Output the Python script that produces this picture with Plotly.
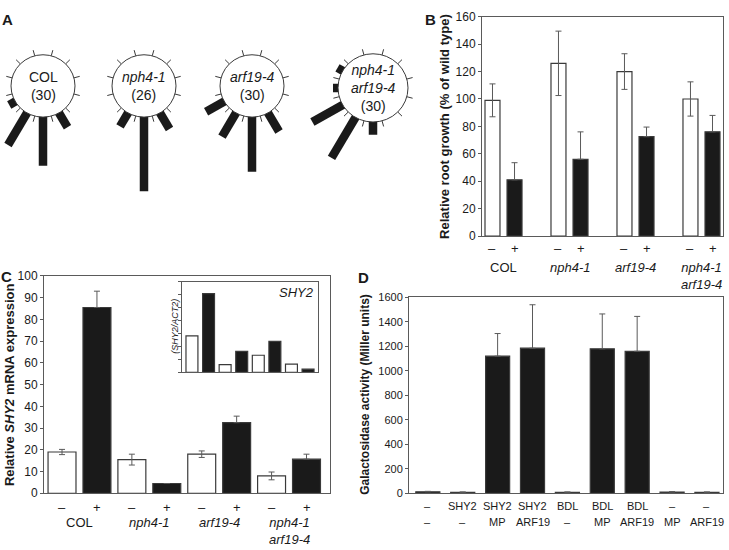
import numpy as np
import plotly.graph_objects as go

W, H = 729, 550
FONT = "Liberation Sans, Arial, Helvetica, sans-serif"
INK = "#1a1a1a"
EDGE = "#3a3a3a"
AX = "#5a5a5a"

# ---------------- Panel A : root angle histograms ----------------
A_genotypes = ["COL", "<i>nph4-1</i>", "<i>arf19-4</i>", "<i>nph4-1</i><br><i>arf19-4</i>"]
A_counts = [30, 26, 30, 30]
A_bin_angles = [-30, 0, 30, 60, 90, 120]   # degrees from vertical, positive = leftwards
A_COL = [17, 50, 38, 7, 0, 0]
A_NPH4 = [19, 76, 16, 0, 0, 0]
A_ARF19 = [22, 56, 28, 21, 0, 0]
A_DOUBLE = [0, 13, 48, 35, 5, 6]
A_bin_edges = [-165, -135, -105, -75, -45, -15, 15, 45, 75, 105, 135, 165]

# ---------------- Panel B : root growth ----------------
B_groups = ["COL", "<i>nph4-1</i>", "<i>arf19-4</i>", "<i>nph4-1</i><br><i>arf19-4</i>"]
B_minus = [99, 126, 120, 100]
B_minus_err = [12, 23.5, 13, 12.5]
B_plus = [41, 56, 72.5, 76]
B_plus_err = [12.5, 20, 7, 12]

# ---------------- Panel C : SHY2 expression ----------------
C_groups = ["COL", "<i>nph4-1</i>", "<i>arf19-4</i>", "<i>nph4-1</i><br><i>arf19-4</i>"]
C_minus = [19, 15.5, 18, 8]
C_minus_err = [1.2, 2.5, 1.5, 1.8]
C_plus = [85.5, 4.5, 32.5, 15.7]
C_plus_err = [7.5, 0, 3, 2.3]
C_inset = [2.83, 6.09, 0.6, 1.63, 1.33, 2.4, 0.65, 0.25]

# ---------------- Panel D : galactosidase activity ----------------
D_row1 = ["–", "SHY2", "SHY2", "SHY2", "BDL", "BDL", "BDL", "–", "–"]
D_row2 = ["–", "–", "MP", "ARF19", "–", "MP", "ARF19", "MP", "ARF19"]
D_vals = [12, 8, 1120, 1185, 8, 1180, 1160, 10, 8]
D_err = [4, 3, 185, 355, 3, 285, 285, 4, 3]


def fx(px):
    return px / W


def fy(py):
    return 1 - py / H


fig = go.Figure()
ann = []
shapes = []


def note(x, y, text, size, xref="paper", yref="paper", yanchor="middle", angle=0):
    ann.append(dict(xref=xref, yref=yref, x=x, y=y, text=text, showarrow=False,
                    xanchor="center", yanchor=yanchor, textangle=angle,
                    font=dict(size=size, color=INK, family=FONT)))


# ---------- Panel A (pixel-unit hidden cartesian axes) ----------
A_cx = [43, 144, 252, 373]
A_cy = [81, 81, 81, 83]
A_r = [32, 32, 32, 35]
A_all = [A_COL, A_NPH4, A_ARF19, A_DOUBLE]
for k in range(4):
    cx, cy, r = A_cx[k], A_cy[k], A_r[k]
    xs, ys = [], []
    for ang, L in zip(A_bin_angles, A_all[k]):
        if L <= 0:
            continue
        a = np.deg2rad(ang)
        dx, dy = -np.sin(a), np.cos(a)
        xs += [cx + (r - 2) * dx, cx + (r + L) * dx, None]
        ys += [cy + (r - 2) * dy, cy + (r + L) * dy, None]
    fig.add_trace(go.Scatter(x=xs, y=ys, mode="lines", xaxis="x5", yaxis="y5",
                             line=dict(color=INK, width=8.5), hoverinfo="skip"))
    tx, ty = [], []
    for ang in A_bin_edges:
        a = np.deg2rad(ang)
        dx, dy = -np.sin(a), np.cos(a)
        tx += [cx + r * dx, cx + (r + 6) * dx, None]
        ty += [cy + r * dy, cy + (r + 6) * dy, None]
    fig.add_trace(go.Scatter(x=tx, y=ty, mode="lines", xaxis="x5", yaxis="y5",
                             line=dict(color=EDGE, width=1), hoverinfo="skip"))
    shapes.append(dict(type="circle", xref="x5", yref="y5", layer="above",
                       x0=cx - r, x1=cx + r, y0=cy - r, y1=cy + r,
                       fillcolor="white", line=dict(color=EDGE, width=1)))
    note(cx, cy, f"{A_genotypes[k]}<br>({A_counts[k]})", 14, xref="x5", yref="y5")

# ---------- Panel B ----------
bpos = np.arange(len(B_groups))
off = 0.167
fig.add_trace(go.Bar(x=bpos - off, y=B_minus, width=0.227, xaxis="x", yaxis="y",
                     marker=dict(color="white", line=dict(color=EDGE, width=1.2)),
                     error_y=dict(type="data", array=B_minus_err, color=AX, thickness=1, width=3)))
fig.add_trace(go.Bar(x=bpos + off, y=B_plus, width=0.227, xaxis="x", yaxis="y",
                     marker=dict(color=INK, line=dict(color=EDGE, width=1.2)),
                     error_y=dict(type="data", array=B_plus_err, arrayminus=[0] * 4,
                                  color=AX, thickness=1, width=3)))
for i, g in enumerate(B_groups):
    note(i - off, fy(248), "–", 13, xref="x")
    note(i + off, fy(248), "+", 13, xref="x")
    note(i, fy(258), g, 13, xref="x", yanchor="top")

# ---------- Panel C ----------
cpos = np.arange(len(C_groups))
fig.add_trace(go.Bar(x=2 * cpos, y=C_minus, width=0.8, xaxis="x2", yaxis="y2",
                     marker=dict(color="white", line=dict(color=EDGE, width=1.2)),
                     error_y=dict(type="data", array=C_minus_err, color=AX, thickness=1, width=3)))
fig.add_trace(go.Bar(x=2 * cpos + 1, y=C_plus, width=0.8, xaxis="x2", yaxis="y2",
                     marker=dict(color=INK, line=dict(color=EDGE, width=1.2)),
                     error_y=dict(type="data", array=C_plus_err, arrayminus=[0] * 4,
                                  color=AX, thickness=1, width=3)))
for i, g in enumerate(C_groups):
    note(2 * i, fy(514), "–", 13, xref="x2")
    note(2 * i + 1, fy(514), "+", 13, xref="x2")
    note(2 * i + 0.5, fy(519), g, 13, xref="x2", yanchor="top")

# inset
ipos = np.arange(len(C_inset))
icol = ["white" if i % 2 == 0 else INK for i in ipos]
fig.add_trace(go.Bar(x=ipos, y=C_inset, width=0.72, xaxis="x3", yaxis="y3",
                     marker=dict(color=icol, line=dict(color=EDGE, width=1.2))))
note(fx(296), fy(293), "<i>SHY2</i>", 13)
note(fx(175), fy(328), "<i>(SHY2/ACT2)</i>", 9, angle=-90)

# ---------- Panel D ----------
dpos = np.arange(len(D_vals))
fig.add_trace(go.Bar(x=dpos, y=D_vals, width=0.69, xaxis="x4", yaxis="y4",
                     marker=dict(color=INK, line=dict(color=EDGE, width=1.2)),
                     error_y=dict(type="data", array=D_err, arrayminus=[0] * len(D_err),
                                  color=AX, thickness=1, width=3)))
for i in dpos:
    note(int(i), fy(512), D_row1[i], 11, xref="x4")
    note(int(i), fy(528), D_row2[i], 11, xref="x4")

# ---------- axis titles and panel letters ----------
note(fx(445), fy(122), "<b>Relative root growth (% of wild type)</b>", 13, angle=-90)
note(fx(9), fy(388), "<b>Relative <i>SHY2</i> mRNA expression</b>", 13, angle=-90)
note(fx(365), fy(398), "<b>Galactosidase activity (Miller units)</b>", 12, angle=-90)
for lab, x, y in [("A", 8, 13), ("B", 430, 13), ("C", 6, 277), ("D", 363, 278)]:
    note(fx(x), fy(y), f"<b>{lab}</b>", 15)


def yax(d0, d1, rng, dtick, size, anchor, labels=True):
    return dict(domain=[fy(d1), fy(d0)], range=rng, dtick=dtick, tick0=0, ticks="outside",
                anchor=anchor,
                ticklen=3, tickwidth=1, tickcolor=AX, showline=True, linecolor=AX, linewidth=1,
                mirror=True, showgrid=False, zeroline=False, showticklabels=labels,
                tickfont=dict(size=size, color=INK, family=FONT), fixedrange=True)


def xax(x0, x1, rng, anchor):
    return dict(domain=[fx(x0), fx(x1)], range=rng, showline=True, linecolor=AX, linewidth=1,
                anchor=anchor,
                mirror=True, showgrid=False, zeroline=False, ticks="", showticklabels=False,
                fixedrange=True)


fig.update_layout(
    width=W, height=H, margin=dict(l=0, r=0, t=0, b=0, pad=0),
    paper_bgcolor="white", plot_bgcolor="white", showlegend=False, barmode="overlay",
    font=dict(family=FONT, color=INK), hovermode=False,
    xaxis=xax(482, 723, [-0.326, 3.326], "y"),
    yaxis=yax(10, 235, [0, 160], 20, 12, "x"),
    xaxis2=xax(44, 330, [-0.516, 7.673], "y2"),
    yaxis2=yax(276, 499, [0, 100], 10, 12, "x2"),
    xaxis3=xax(182, 318, [-0.6, 7.6], "y3"),
    yaxis3=yax(282, 375, [0, 7.0], 1, 9, "x3", labels=False),
    xaxis4=xax(409, 723, [-0.54, 8.46], "y4"),
    yaxis4=yax(298, 499, [0, 1600], 200, 11, "x4"),
    xaxis5=dict(domain=[0, fx(420)], range=[0, 420], visible=False, fixedrange=True, anchor="y5"),
    yaxis5=dict(domain=[fy(200), fy(20)], range=[200, 20], visible=False, fixedrange=True,
                anchor="x5"),
    annotations=ann, shapes=shapes,
)

fig.write_html("out.html", config={"displayModeBar": False},
               post_script="document.body.style.margin='0px';"
                           "document.body.style.overflow='hidden';")
